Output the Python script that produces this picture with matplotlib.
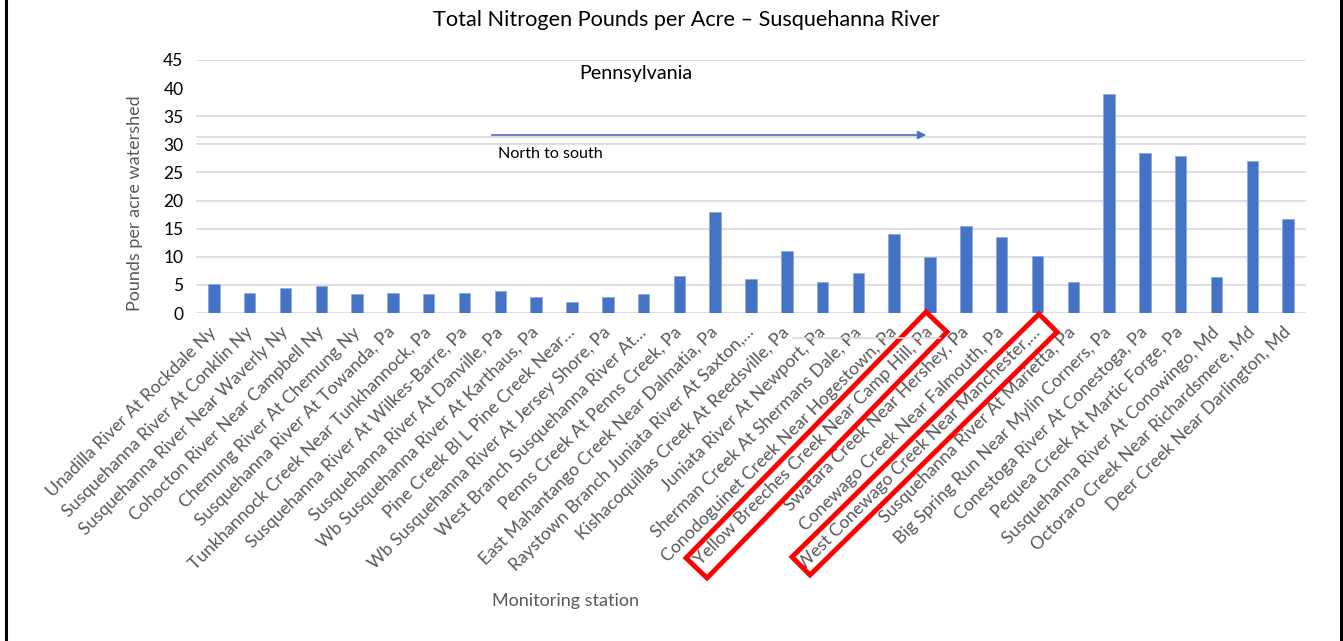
import matplotlib
matplotlib.use("Agg")
import matplotlib.pyplot as plt
from matplotlib.patches import Polygon, FancyArrowPatch
from matplotlib.lines import Line2D

stations = [
    "Unadilla River At Rockdale Ny",
    "Susquehanna River At Conklin Ny",
    "Susquehanna River Near Waverly Ny",
    "Cohocton River Near Campbell Ny",
    "Chemung River At Chemung Ny",
    "Susquehanna River At Towanda, Pa",
    "Tunkhannock Creek Near Tunkhannock, Pa",
    "Susquehanna River At Wilkes-Barre, Pa",
    "Susquehanna River At Danville, Pa",
    "Wb Susquehanna River At Karthaus, Pa",
    "Pine Creek Bl L Pine Creek Near\u2026",
    "Wb Susquehanna River At Jersey Shore, Pa",
    "West Branch Susquehanna River At\u2026",
    "Penns Creek At Penns Creek, Pa",
    "East Mahantango Creek Near Dalmatia, Pa",
    "Raystown Branch Juniata River At Saxton,\u2026",
    "Kishacoquillas Creek At Reedsville, Pa",
    "Juniata River At Newport, Pa",
    "Sherman Creek At Shermans Dale, Pa",
    "Conodoguinet Creek Near Hogestown, Pa",
    "Yellow Breeches Creek Near Camp Hill, Pa",
    "Swatara Creek Near Hershey, Pa",
    "Conewago Creek Near Falmouth, Pa",
    "West Conewago Creek Near Manchester,\u2026",
    "Susquehanna River At Marietta, Pa",
    "Big Spring Run Near Mylin Corners, Pa",
    "Conestoga River At Conestoga, Pa",
    "Pequea Creek At Martic Forge, Pa",
    "Susquehanna River At Conowingo, Md",
    "Octoraro Creek Near Richardsmere, Md",
    "Deer Creek Near Darlington, Md",
]
nitrogen = [5.15, 3.55, 4.45, 4.8, 3.37, 3.55, 3.32, 3.61, 3.97, 2.84,
            2.0, 2.84, 3.37, 6.5, 17.9, 6.04, 11.0, 5.5, 7.2, 14.0,
            9.9, 15.5, 13.6, 10.1, 5.45, 38.9, 28.5, 27.95, 6.35, 27.0,
            16.75]
yticks = [0, 5, 10, 15, 20, 25, 30, 35, 40, 45]
grid_levels = [0, 5, 10, 15, 20, 25, 30, 35, 45]

plt.rcParams['font.family'] = ['Lato', 'DejaVu Sans']

W, H = 1343, 641
fig = plt.figure(figsize=(W / 100, H / 100), dpi=100)
ax = fig.add_axes([196 / W, 1 - 313 / H, (1306 - 196) / W, (313 - 60) / H])

x = list(range(len(stations)))
for g in grid_levels:
    ax.axhline(g, color='#D9D9D9', lw=1.2, zorder=0)
ax.axhline(31.35, color='#D9D9D9', lw=1.2, zorder=0)
ax.bar(x, nitrogen, width=0.32, color='#4472C4', edgecolor='#8FAADC',
       linewidth=0.6, zorder=2)

ax.set_xlim(-0.5, len(stations) - 0.5)
ax.set_ylim(0, 45)
ax.set_yticks(yticks)
ax.set_yticklabels([str(v) for v in yticks], fontsize=12.5, color='black')
ax.set_xticks(x)
ax.set_xticklabels(stations, rotation=45, ha='right', va='center',
                   rotation_mode='anchor', fontsize=12.7, color='#595959')
ax.tick_params(axis='both', length=0)
ax.tick_params(axis='y', pad=9)
ax.tick_params(axis='x', pad=12)
for s in ax.spines.values():
    s.set_visible(False)

fig.text(686 / W, 1 - 20 / H, "Total Nitrogen Pounds per Acre \u2013 Susquehanna River",
         ha='center', va='center', fontsize=15.6, color='black')
fig.text(135 / W, 1 - 203 / H, "Pounds per acre watershed", rotation=90,
         ha='center', va='center', fontsize=13.0, color='#595959')
fig.text(565 / W, 1 - 601 / H, "Monitoring station", ha='center', va='center',
         fontsize=13, color='#595959')
fig.text(636 / W, 1 - 73 / H, "Pennsylvania", ha='center', va='center',
         fontsize=14.2, color='black')
fig.text(498 / W, 1 - 154 / H, "North to south", ha='left', va='center',
         fontsize=11.6, color='black')

tr = fig.transFigure
arrow = FancyArrowPatch((489 / W, 1 - 135 / H), (929 / W, 1 - 135 / H),
                        transform=tr, arrowstyle='-|>', mutation_scale=12,
                        color='#4472C4', lw=1.2)
fig.patches.append(arrow)

fig.lines.append(Line2D([793 / W, 940 / W], [1 - 338 / H, 1 - 338 / H],
                        transform=tr, color='#D9D9D9', lw=1.2))

def rect(pts):
    p = Polygon([(px / W, 1 - py / H) for px, py in pts], closed=True,
                fill=False, edgecolor='#FF0000', lw=3.5, transform=tr,
                joinstyle='miter')
    fig.patches.append(p)

rect([(926, 312), (947, 332), (707, 578), (686, 558)])
rect([(1039, 314), (1057, 332), (810, 575), (792, 557)])

# frame borders
fig.lines.append(Line2D([6 / W, 6 / W], [0, 1], transform=tr, color='black', lw=2.2))
fig.lines.append(Line2D([1340.5 / W, 1340.5 / W], [0, 1], transform=tr, color='black', lw=2.2))

fig.savefig("out.png", dpi=100, facecolor='white')
